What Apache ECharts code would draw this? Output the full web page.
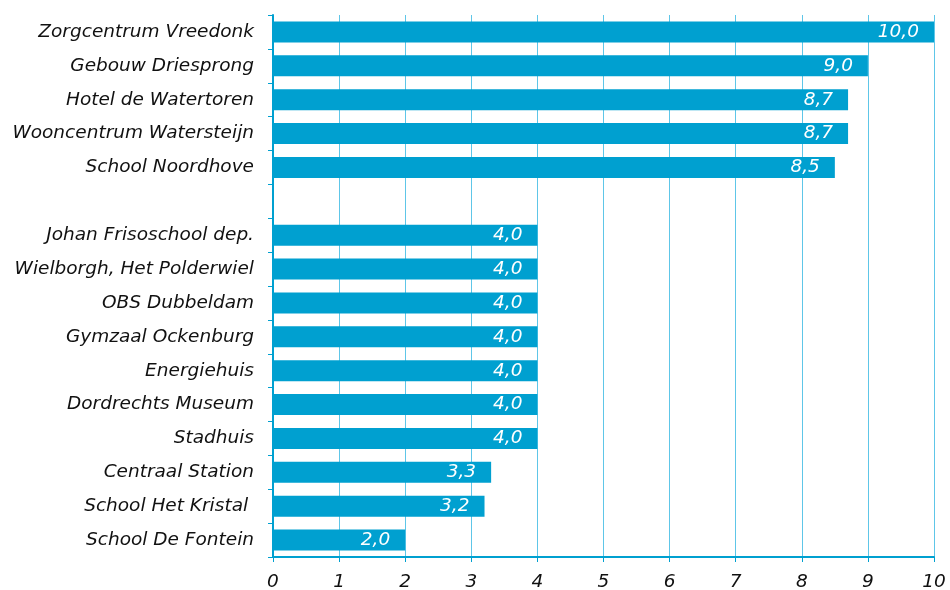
<!DOCTYPE html>
<html>
<head>
<meta charset="utf-8">
<script src="https://cdn.jsdelivr.net/npm/echarts@6/dist/echarts.min.js"></script>
<style>html,body{margin:0;padding:0;background:#fff;}#chart{width:950px;height:590px;}</style>
</head>
<body>
<div id="chart"></div>
<script>
var categories = ["Zorgcentrum Vreedonk","Gebouw Driesprong","Hotel de Watertoren","Wooncentrum Watersteijn","School Noordhove","","Johan Frisoschool dep.","Wielborgh, Het Polderwiel","OBS Dubbeldam","Gymzaal Ockenburg","Energiehuis","Dordrechts Museum","Stadhuis","Centraal Station","School Het Kristal ","School De Fontein"];
var values = [10.0, 9.0, 8.7, 8.7, 8.5, null, 4.0, 4.0, 4.0, 4.0, 4.0, 4.0, 4.0, 3.3, 3.2, 2.0];
var xTicks = [0,1,2,3,4,5,6,7,8,9,10];

var FONT = '"DejaVu Sans", Verdana, sans-serif';
var chart = echarts.init(document.getElementById('chart'));
chart.setOption({
  animation: false,
  grid: {left: 273, right: 16, top: 15, bottom: 33, containLabel: false, outerBoundsMode: 'none'},
  xAxis: {
    type: 'value', min: 0, max: 10, interval: 1,
    axisLine: {show: true, lineStyle: {color: '#00a0d0', width: 2}},
    axisTick: {show: true, length: 5, lineStyle: {color: '#00a0d0'}},
    splitLine: {show: true, lineStyle: {color: '#5ec6e8', width: 1}},
    axisLabel: {color: '#111', fontSize: 18.5, fontStyle: 'italic', fontFamily: FONT, margin: 16,
      formatter: function(v){ return xTicks.indexOf(v) >= 0 ? String(v) : ''; }}
  },
  yAxis: {
    type: 'category', data: categories, inverse: true,
    axisLine: {show: true, lineStyle: {color: '#00a0d0', width: 2}},
    axisTick: {show: true, length: 5, inside: false, lineStyle: {color: '#00a0d0'}},
    axisLabel: {color: '#111', fontSize: 18.5, fontStyle: 'italic', fontFamily: FONT, margin: 19}
  },
  series: [{
    type: 'bar', data: values, barCategoryGap: '38%',
    itemStyle: {color: '#00a0d0'},
    label: {show: true, position: 'insideRight', distance: 15, color: '#fff', fontSize: 18.5, fontStyle: 'italic', fontFamily: FONT,
      formatter: function(p){ return p.value == null ? '' : p.value.toFixed(1).replace('.', ','); }}
  }]
});
</script>
</body>
</html>
